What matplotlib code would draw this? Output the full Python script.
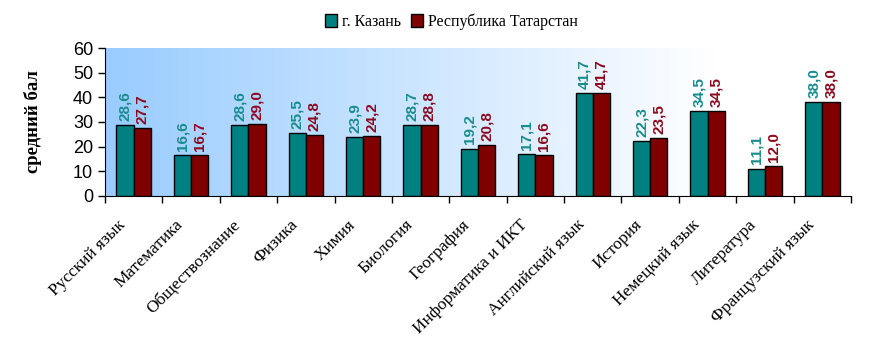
import matplotlib
matplotlib.use("Agg")
import matplotlib.pyplot as plt
import matplotlib.patches as mpatches
import numpy as np
from matplotlib.colors import LinearSegmentedColormap

subjects = ["Русский язык", "Математика", "Обществознание", "Физика", "Химия",
            "Биология", "География", "Информатика и ИКТ", "Английский язык",
            "История", "Немецкий язык", "Литература", "Французский язык"]
kazan = [28.6, 16.6, 28.6, 25.5, 23.9, 28.7, 19.2, 17.1, 41.7, 22.3, 34.5, 11.1, 38.0]
tatarstan = [27.7, 16.7, 29.0, 24.8, 24.2, 28.8, 20.8, 16.6, 41.7, 23.5, 34.5, 12.0, 38.0]

c_kazan = "#008080"
c_rt = "#800000"

fig = plt.figure(figsize=(8.85, 3.53), dpi=100)
ax = fig.add_axes([0.1186, 0.4448, 0.8430, 0.4192])

n = len(subjects)
x = np.arange(n)
w = 0.3

# gradient background
grad = np.clip(np.linspace(0, 1, 400) / 0.82, 0, 1).reshape(1, -1)
cmap = LinearSegmentedColormap.from_list("bg", ["#99CCFF", "#FFFFFF"])
ax.imshow(grad, extent=[-0.5, n - 0.5, 0, 60], aspect="auto", cmap=cmap,
          vmin=0, vmax=1, zorder=0)

ax.bar(x - w / 2, kazan, w, color=c_kazan, edgecolor="black", linewidth=1, zorder=2)
ax.bar(x + w / 2, tatarstan, w, color=c_rt, edgecolor="black", linewidth=1, zorder=2)

for i in range(n):
    ax.annotate(f"{kazan[i]:.1f}".replace(".", ","), xy=(x[i] - w / 2, kazan[i]),
                xytext=(0, 3), textcoords="offset points", rotation=90,
                ha="center", va="bottom", fontsize=11, fontweight="bold",
                color="#1A8C8C", family="Liberation Sans", zorder=3)
    ax.annotate(f"{tatarstan[i]:.1f}".replace(".", ","), xy=(x[i] + w / 2, tatarstan[i]),
                xytext=(0, 3), textcoords="offset points", rotation=90,
                ha="center", va="bottom", fontsize=11, fontweight="bold",
                color="#8C0A1E", family="Liberation Sans", zorder=3)

ax.set_xlim(-0.5, n - 0.5)
ax.set_ylim(0, 60)
ax.set_yticks(range(0, 61, 10))
ax.tick_params(axis="y", labelsize=13, length=5, width=1, direction="out")
for lab in ax.get_yticklabels():
    lab.set_family("Liberation Sans")

# category boundary ticks
ax.set_xticks(np.arange(-0.5, n, 1))
ax.set_xticklabels([])
ax.tick_params(axis="x", length=5, width=1, direction="out")
ax.set_xticks(x - 0.28, minor=True)
ax.set_xticklabels(subjects, minor=True, rotation=45, ha="right",
                   rotation_mode="anchor", fontsize=12.5, family="Liberation Serif")
ax.tick_params(axis="x", which="minor", length=0, pad=15)

for s in ["top", "right"]:
    ax.spines[s].set_visible(False)

ax.set_ylabel("средний бал", fontsize=13.5, fontweight="bold",
              family="Liberation Serif", labelpad=22)

handles = [mpatches.Patch(facecolor=c_kazan, edgecolor="black", label="г. Казань"),
           mpatches.Patch(facecolor=c_rt, edgecolor="black", label="Республика Татарстан")]
fig.legend(handles=handles, loc="center", bbox_to_anchor=(0.51, 0.938), ncol=2,
           frameon=False, prop={"family": "Liberation Serif", "size": 11.5},
           handlelength=0.8, handleheight=0.8, handletextpad=0.3, columnspacing=0.6)

fig.savefig("out.png", dpi=100)
